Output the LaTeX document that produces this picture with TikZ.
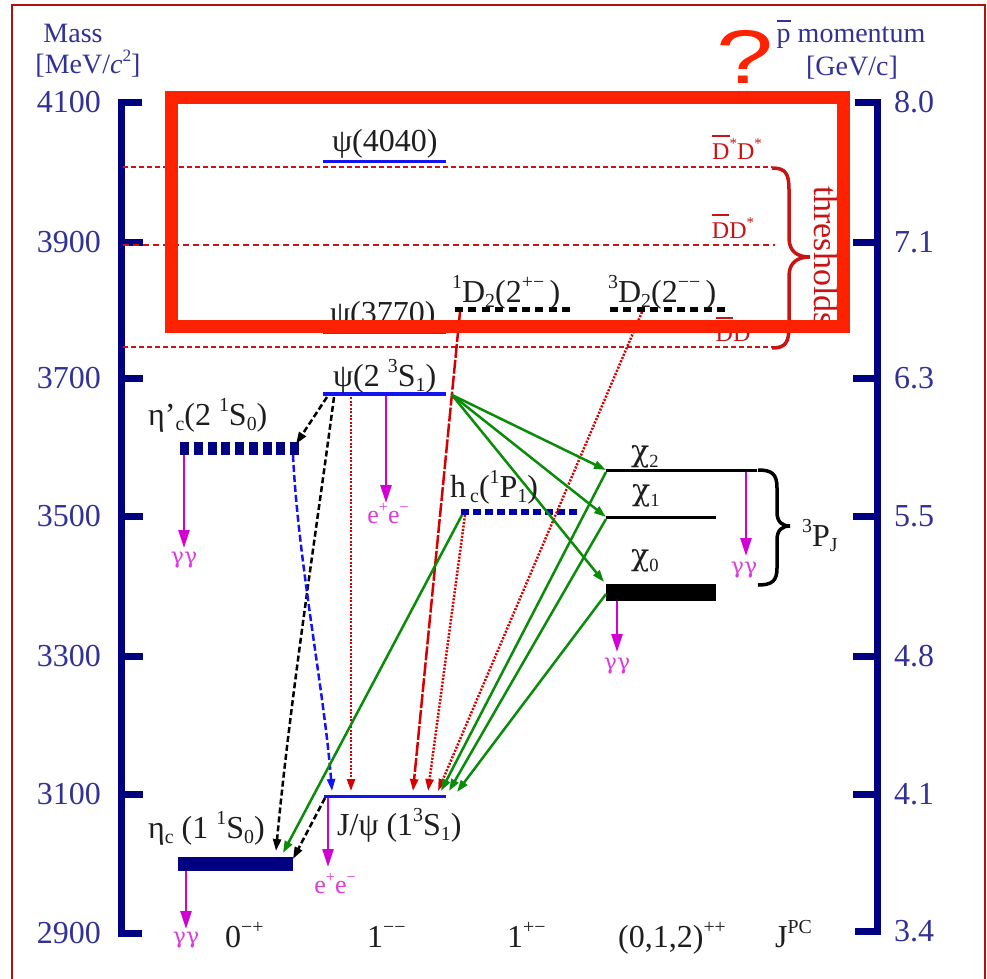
\documentclass[tikz,border=0pt]{standalone}
\usepackage{fontspec}
\setmainfont{Liberation Serif}
\newfontfamily\qfont{Liberation Sans}
\newfontfamily\grk{DejaVu Serif}
\usepackage{graphicx}
\usetikzlibrary{arrows.meta}
\definecolor{axisblue}{RGB}{0,0,128}
\definecolor{axtext}{RGB}{50,50,150}
\definecolor{lvlblue}{RGB}{20,20,240}
\definecolor{purblue}{RGB}{70,60,230}
\definecolor{hcblue}{RGB}{0,0,170}
\definecolor{navyc}{RGB}{0,0,128}
\definecolor{magc}{RGB}{210,0,210}
\definecolor{magl}{RGB}{220,60,220}
\definecolor{grn}{RGB}{10,140,10}
\definecolor{redc}{RGB}{215,0,0}
\definecolor{thrc}{RGB}{200,20,20}
\definecolor{bigred}{RGB}{255,34,0}
\definecolor{framec}{RGB}{175,20,10}
\definecolor{txt}{RGB}{30,30,30}
\newcommand\upx[1]{\raisebox{0.42em}{\scalebox{0.62}{#1}}}
\newcommand\dnx[1]{\raisebox{-0.16em}{\scalebox{0.62}{#1}}}
\newcommand\chix[1]{{\grk χ}\raisebox{-0.2em}{\scalebox{0.62}{#1}}}
\newcommand\barD{\leavevmode\setbox0\hbox{D}\rlap{\raisebox{\dimexpr\ht0+0.28em\relax}{\rule{\wd0}{0.08em}}}\box0}
\newcommand\barp{\leavevmode\setbox0\hbox{p}\rlap{\raisebox{\dimexpr\ht0+0.25em\relax}{\rule{\wd0}{0.05em}}}\box0}
\begin{document}
\begin{tikzpicture}[x=1pt,y=-1pt,
  axl/.style={line width=7pt, draw=axisblue},
  axnum/.style={font=\fontsize{32}{36}\selectfont, text=axtext, inner sep=0pt},
  axhead/.style={font=\fontsize{28}{30}\selectfont, text=axtext, inner sep=0pt, anchor=base},
  lab/.style={font=\fontsize{32}{36}\selectfont, text=txt, inner sep=0pt, anchor=base west},
  chilab/.style={font=\fontsize{30}{34}\selectfont, text=txt, inner sep=0pt, anchor=base west},
  thr/.style={font=\fontsize{24}{26}\selectfont, text=thrc, inner sep=0pt, anchor=base},
  declab/.style={font=\grk\fontsize{22}{24}\selectfont, text=magl, inner sep=0pt},
  eelab/.style={font=\fontsize{26}{28}\selectfont, text=magl, inner sep=0pt, anchor=base},
  magarr/.style={draw=magc, line width=2.5pt, -{Triangle[length=18pt,width=11pt]}},
  tipsm/.style={-{Triangle[length=12pt,width=8pt]}},
  bdash/.style={draw=black, line width=2.5pt, dash pattern=on 6pt off 3pt, tipsm},
  bldash/.style={draw=lvlblue, line width=2.5pt, dash pattern=on 7pt off 3pt, tipsm},
  rdot/.style={draw=redc, line width=2.5pt, dash pattern=on 2pt off 1.5pt, tipsm},
  rdash/.style={draw=redc, line width=2.5pt, dash pattern=on 14pt off 2pt, tipsm},
  garr/.style={draw=grn, line width=2.5pt, tipsm},
  thrline/.style={draw=thrc, line width=1.6pt, dash pattern=on 5pt off 3pt},
  lvl/.style={draw=lvlblue, line width=3.5pt},
  chil/.style={draw=black, line width=3pt}
]
\useasboundingbox (0,0) rectangle (987,978);
\fill[white] (0,0) rectangle (987,978);
% frame
\draw[framec, line width=2pt] (12,995) -- (12,5) -- (985,5) -- (985,995);
% axes
\draw[axl] (142,102) -- (121.5,102) -- (121.5,933) -- (142,933);
\foreach \y in {242,378,516,656,794} \draw[axl] (121.5,\y) -- (143,\y);
\draw[axl] (855,102) -- (877,102) -- (877,931) -- (855,931);
\foreach \y in {242,378,516,656,794} \draw[axl] (877,\y) -- (853,\y);
\foreach \y/\m in {102/4100,242/3900,378/3700,516/3500,656/3300,794/3100,933/2900}
  \node[axnum,anchor=east] (L\y) at (101,\y) {\m};
\foreach \y/\m in {102/8.0,242/7.1,378/6.3,516/5.5,656/4.8,794/4.1,931/3.4}
  \node[axnum,anchor=west] (R\y) at (894,\y) {\m};
\node[axhead] (tMass) at (73,42) {Mass};
\node[axhead] (tMeV) at (88,73) {[MeV/\textit{c}\upx{2}]};
\node[axhead] (tPbar) at (851,42) {\barp\ momentum};
\node[axhead] (tGeV) at (852,75) {[GeV/c]};
% thresholds
\coordinate (t1a) at (123,167); \coordinate (t1b) at (772,167);
\coordinate (t2a) at (123,245); \coordinate (t2b) at (775,245);
\coordinate (t3a) at (123,347); \coordinate (t3b) at (772,347);
\draw[thrline] (t1a) -- (t1b);
\draw[thrline, line width=2.6pt, dash pattern=on 6pt off 4pt] (t2a) -- (t2b);
\draw[thrline] (t3a) -- (t3b);
\node[thr] (tDsDs) at (737,159) {\barD\upx{*}D\upx{*}};
\node[thr] (tDDs) at (733,238) {\barD D\upx{*}};
\node[thr] (tDD) at (733,341) {\barD D};
\draw[thrc, line width=3.5pt] (772,168) .. controls (786,168) and (789,174) .. (789,190) -- (789,238) .. controls (789,252) and (798,257) .. (810,257) .. controls (798,257) and (789,262) .. (789,276) -- (789,326) .. controls (789,342) and (786,348) .. (772,348);
\node[font=\fontsize{34}{36}\selectfont, text=thrc, rotate=-90, inner sep=0pt] (tThr) at (826,256) {thresholds};
% levels
\coordinate (p4040a) at (323,161); \coordinate (p4040b) at (446,161);
\coordinate (p3770a) at (323,332); \coordinate (p3770b) at (446,332);
\coordinate (d1a) at (455,309); \coordinate (d1b) at (570,309);
\coordinate (d3a) at (610,309); \coordinate (d3b) at (728,309);
\coordinate (p2a) at (323,394); \coordinate (p2b) at (446,394);
\coordinate (etapa) at (180,448.5); \coordinate (etapb) at (299,448.5);
\coordinate (hca) at (461,512); \coordinate (hcb) at (577,512);
\coordinate (c2a) at (606,470); \coordinate (c2b) at (757,470);
\coordinate (c1a) at (606,517); \coordinate (c1b) at (716,517);
\coordinate (c0a) at (606,592.5); \coordinate (c0b) at (716,592.5);
\coordinate (jpa) at (324,796); \coordinate (jpb) at (446,796);
\coordinate (etaa) at (178,864); \coordinate (etab) at (293,864);
\draw[lvl, line width=3pt] (p4040a) -- (p4040b);
\draw[purblue, line width=3pt] (p3770a) -- (p3770b);
\draw[black, line width=5pt, dash pattern=on 8pt off 5.4pt] (d1a) -- (d1b);
\draw[black, line width=5pt, dash pattern=on 8pt off 5.4pt] (d3a) -- (d3b);
\draw[lvl] (p2a) -- (p2b);
\draw[navyc, line width=13pt, dash pattern=on 9pt off 4.75pt] (etapa) -- (etapb);
\draw[hcblue, line width=6pt, dash pattern=on 8pt off 4pt] (hca) -- (hcb);
\draw[chil] (c2a) -- (c2b);
\draw[chil] (c1a) -- (c1b);
\draw[black, line width=17pt] (c0a) -- (c0b);
\draw[lvl, line width=3pt] (jpa) -- (jpb);
\draw[navyc, line width=14pt] (etaa) -- (etab);
% braces
\draw[black, line width=3.5pt] (758,470) .. controls (772,470) and (777,474) .. (777,488) -- (777,512) .. controls (777,522) and (782,526) .. (790,526) .. controls (782,526) and (777,530) .. (777,540) -- (777,568) .. controls (777,581) and (772,585) .. (758,585);
% transition endpoints
\coordinate (aS) at (327,397); \coordinate (aE) at (296,444);
\coordinate (bS) at (334,397); \coordinate (bE) at (276,851);
\coordinate (cS) at (325,798); \coordinate (cE) at (293,859);
\coordinate (blS) at (293,455); \coordinate (blE) at (332,791);
\coordinate (dS) at (351,397); \coordinate (dE) at (351,791);
\coordinate (eS) at (465,515); \coordinate (eE) at (428,791);
\coordinate (fS) at (642,312); \coordinate (fE) at (438,791);
\coordinate (rS) at (460,312); \coordinate (rE) at (413,791);
\coordinate (gS) at (452,395);
\coordinate (gE2) at (606,470); \coordinate (gE1) at (606,517); \coordinate (gE0) at (604,582);
\coordinate (j2S) at (606,472); \coordinate (j2E) at (441,791);
\coordinate (j1S) at (606,519); \coordinate (j1E) at (449,791);
\coordinate (j0S) at (606,594); \coordinate (j0E) at (457,792);
\coordinate (mS) at (462,515); \coordinate (mE) at (283,853);
% transitions
\draw[bdash] (aS) -- (aE);
\draw[bdash] (bS) .. controls (318,520) and (290,700) .. (bE);
\draw[bdash] (cS) -- (cE);
\draw[bldash] (blS) .. controls (298,560) and (324,690) .. (blE);
\draw[rdot] (dS) -- (dE);
\draw[rdot] (eS) -- (eE);
\draw[rdot] (fS) -- (fE);
\draw[rdash] (rS) -- (rE);
\draw[garr] (gS) -- (gE2);
\draw[garr] (gS) -- (gE1);
\draw[garr] (gS) -- (gE0);
\draw[garr] (j2S) -- (j2E);
\draw[garr] (j1S) -- (j1E);
\draw[garr] (j0S) -- (j0E);
\draw[garr] (mS) -- (mE);
% decays
\coordinate (m1S) at (184,455); \coordinate (m1E) at (184,548);
\coordinate (m2S) at (386,396); \coordinate (m2E) at (386,503);
\coordinate (m3S) at (746,472); \coordinate (m3E) at (746,556);
\coordinate (m4S) at (617,601); \coordinate (m4E) at (617,652);
\coordinate (m5S) at (328,798); \coordinate (m5E) at (328,867);
\coordinate (m6S) at (186,871); \coordinate (m6E) at (186,929);
\draw[magarr] (m1S) -- (m1E);
\draw[magarr] (m2S) -- (m2E);
\draw[magarr] (m3S) -- (m3E);
\draw[magarr] (m4S) -- (m4E);
\draw[magarr] (m5S) -- (m5E);
\draw[magarr] (m6S) -- (m6E);
\node[declab, anchor=north] (g1) at (184,552) {γγ};
\node[eelab] (ee1) at (388,523) {e\upx{+}e\upx{−}};
\node[declab, anchor=north] (g3) at (744,562) {γγ};
\node[declab, anchor=north] (g4) at (617,658) {γγ};
\node[eelab] (ee2) at (335,893) {e\upx{+}e\upx{−}};
\node[declab, anchor=north] (g6) at (186,932) {γγ};
% level labels
\node[lab] (l4040) at (332,151) {ψ(4040)};
\node[lab] (l3770) at (330,323) {ψ(3770)};
\node[lab] (lD1) at (452,302) {\upx{1}D\dnx{2}(2\upx{+−}\,)};
\node[lab] (lD3) at (608,302) {\upx{3}D\dnx{2}(2\upx{−−}\,)};
\node[lab] (lp2) at (333,386) {ψ(2 \upx{3}S\dnx{1})};
\node[lab] (letap) at (148,425) {η’\dnx{c}(2 \upx{1}S\dnx{0})};
\node[lab] (lhc) at (450,497) {h\hspace{4pt}\dnx{c}(\upx{1}P\dnx{1})};
\node[chilab] (lc2) at (631,461) {\chix{2}};
\node[chilab] (lc1) at (632,500) {\chix{1}};
\node[chilab] (lc0) at (631,565) {\chix{0}};
\node[lab] (l3PJ) at (802,546) {\upx{3}P\dnx{J}};
\node[lab] (ljpsi) at (337,835) {J/ψ (1\upx{3}S\dnx{1})};
\node[lab] (leta) at (148,838) {η\dnx{c} (1 \upx{1}S\dnx{0})};
% JPC row
\node[lab] (j0) at (225,947) {0\upx{−+}};
\node[lab] (j1) at (367,947) {1\upx{−−}};
\node[lab] (j2) at (507,947) {1\upx{+−}};
\node[lab] (j3) at (618,947) {(0,1,2)\upx{++}};
\node[lab] (j4) at (775,947) {J\upx{PC}};
% big red box and question mark
\draw[bigred, line width=13pt] (171,97) rectangle (843,326);
\node[font=\qfont\fontsize{76}{80}\selectfont, text=bigred, inner sep=0pt, anchor=base] (qm) at (745,83) {\scalebox{1.35}[1]{?}};
\end{tikzpicture}
\end{document}
